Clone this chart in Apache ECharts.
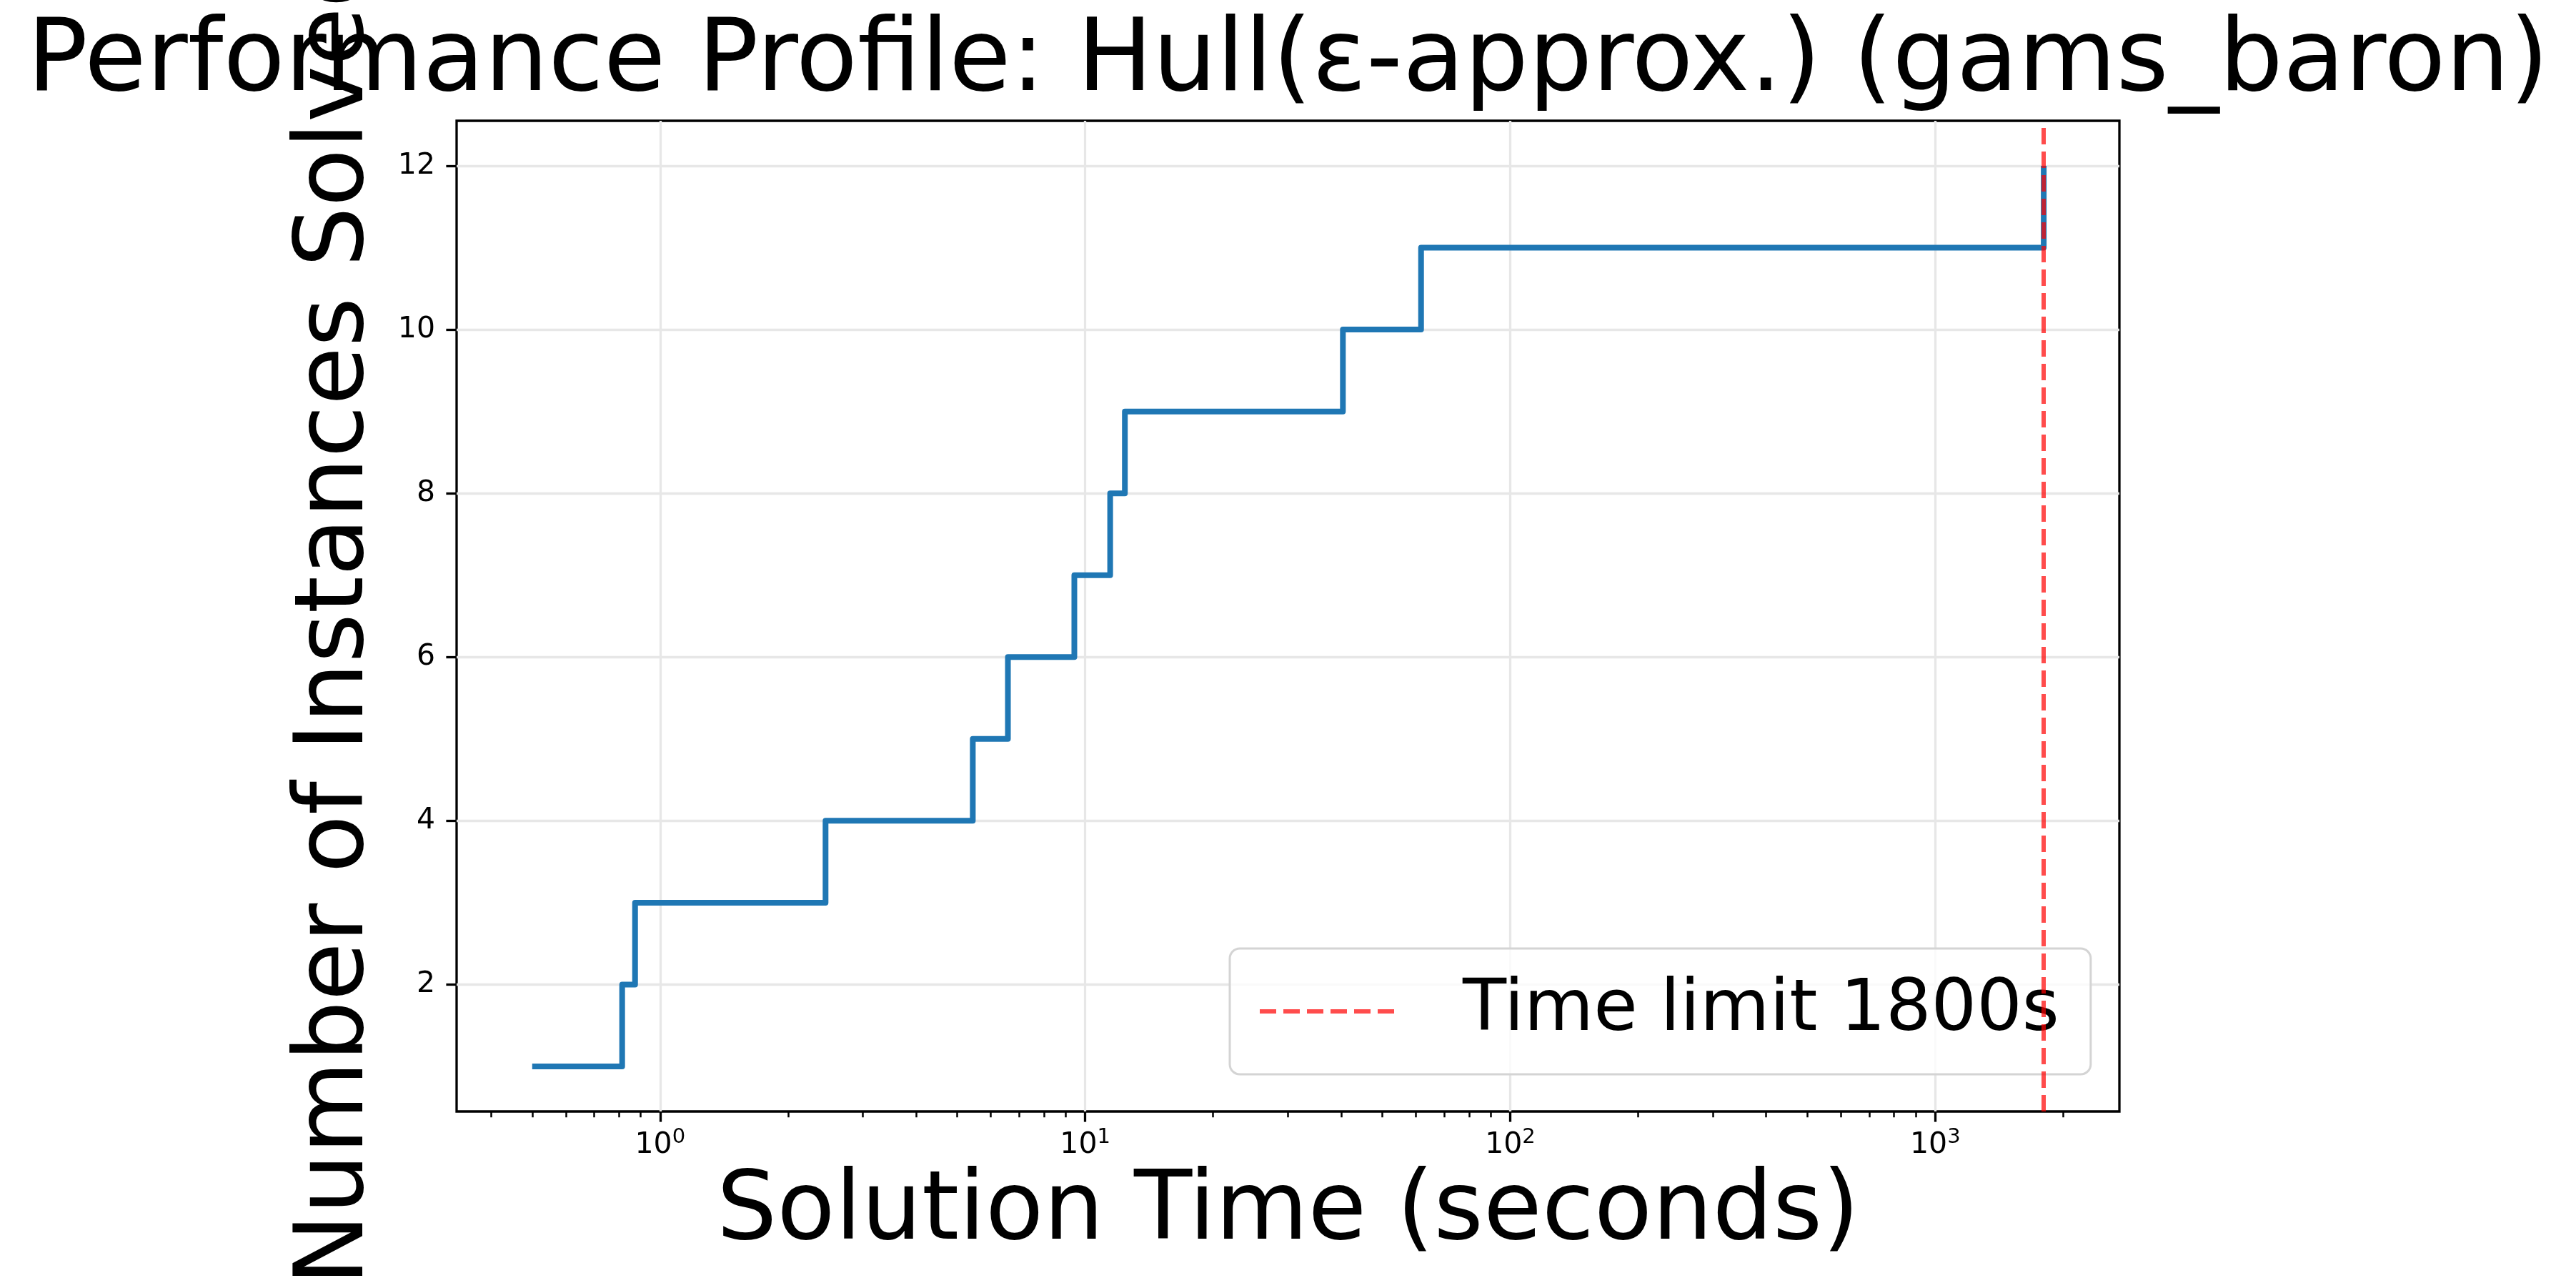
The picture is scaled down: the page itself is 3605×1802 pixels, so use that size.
<html>
  <head>
    <meta charset="utf-8">
    <title>Performance Profile</title>
    <script src="https://cdn.jsdelivr.net/npm/echarts@6.0.0/dist/echarts.min.js"></script>
    <style>
      html, body { margin: 0; padding: 0; background: #fff; }
      #main { width: 3605px; height: 1802px; }
    </style>
  </head>
  <body>
    <div id="main"></div>
    <script type="text/javascript">
        // solution times (s) and cumulative instances solved
        var times = [0.5, 0.814, 0.873, 2.45, 5.44, 6.58, 9.43, 11.45, 12.4, 40.4, 61.7, 1800];
        var solved = [1, 2, 3, 4, 5, 6, 7, 8, 9, 10, 11, 12];
        var timeLimit = 1800;
        var xMajorTicks = [1, 10, 100, 1000];
        var xMinorTicks = [0.4, 0.5, 0.6, 0.7, 0.8, 0.9, 2, 3, 4, 5, 6, 7, 8, 9,
                           20, 30, 40, 50, 60, 70, 80, 90, 200, 300, 400, 500, 600, 700, 800, 900, 2000];
        var yTicks = [2, 4, 6, 8, 10, 12];

        var font = 'DejaVu Sans';
        var limitColor = 'rgba(255,0,0,0.7)';
        var chartDom = document.getElementById('main');
        var myChart = echarts.init(chartDom);
        var option;

        var points = times.map(function (t, i) { return [t, solved[i]]; });

        option = {
          animation: false,
          backgroundColor: '#ffffff',
          title: {
            text: 'Performance Profile: Hull(ε-approx.) (gams_baron)',
            left: 'center',
            top: 14,
            textStyle: { fontFamily: font, fontSize: 141, fontWeight: 'normal', color: '#000' }
          },
          legend: {
            data: ['Time limit 1800s'],
            left: 1721,
            top: 1327,
            orient: 'vertical',
            padding: [38, 44, 38, 39],
            itemWidth: 196,
            itemHeight: 30,
            itemStyle: { opacity: 0 },
            lineStyle: { color: limitColor, width: 6, type: [23, 10], opacity: 1 },
            backgroundColor: 'rgba(255,255,255,0.8)',
            borderColor: '#d4d4d4',
            borderWidth: 3,
            borderRadius: 14,
            textStyle: { fontFamily: font, fontSize: 100, color: '#000', padding: [0, 0, 0, 83] }
          },
          grid: {
            left: 639,
            right: 639,
            top: 169,
            bottom: 247,
            outerBoundsMode: 'none',
            containLabel: false,
            show: true,
            borderColor: '#000',
            borderWidth: 3.3,
            backgroundColor: 'transparent'
          },
          xAxis: [
            {
              type: 'log',
              logBase: 10,
              min: 0.332,
              max: 2712,
              position: 'bottom',
              name: 'Solution Time (seconds)',
              nameLocation: 'middle',
              nameGap: 76,
              nameTextStyle: { fontFamily: font, fontSize: 133, color: '#000' },
              axisLine: { show: false },
              axisTick: { show: true, customValues: xMajorTicks, length: 14.6, lineStyle: { color: '#000', width: 3.3 } },
              axisLabel: {
                customValues: xMajorTicks,
                margin: 24,
                formatter: function (v) {
                  return '{b|10}{s|' + Math.round(Math.log10(v)) + '}';
                },
                rich: {
                  b: { fontFamily: font, fontSize: 41, color: '#000', lineHeight: 46 },
                  s: { fontFamily: font, fontSize: 29, color: '#000', lineHeight: 46, padding: [0, 0, 22, 0] }
                }
              },
              splitLine: { show: true, lineStyle: { color: '#e7e7e7', width: 3.3 } }
            },
            {
              type: 'log',
              logBase: 10,
              min: 0.332,
              max: 2712,
              position: 'bottom',
              axisLine: { show: false },
              axisTick: { show: true, customValues: xMinorTicks, length: 8.3, lineStyle: { color: '#000', width: 2.5 } },
              axisLabel: { show: false },
              splitLine: { show: false }
            }
          ],
          yAxis: {
            type: 'value',
            min: 0.45,
            max: 12.55,
            name: 'Number of Instances Solved',
            nameLocation: 'middle',
            nameRotate: 90,
            nameGap: 100,
            nameTextStyle: { fontFamily: font, fontSize: 133, color: '#000' },
            axisLine: { show: false },
            axisTick: { show: true, customValues: yTicks, length: 14.6, lineStyle: { color: '#000', width: 3.3 } },
            axisLabel: { customValues: yTicks, margin: 30, fontFamily: font, fontSize: 41, color: '#000' },
            splitLine: { show: true, lineStyle: { color: '#e7e7e7', width: 3.3 } }
          },
          series: [
            {
              name: 'solved',
              type: 'line',
              step: 'end',
              data: points,
              symbol: 'none',
              lineStyle: { color: '#1f77b4', width: 8, join: 'round' },
              z: 3
            },
            {
              name: 'Time limit 1800s',
              type: 'line',
              data: [],
              symbol: 'none',
              color: limitColor,
              lineStyle: { color: limitColor, width: 6, type: [23, 10] },
              markLine: {
                silent: true,
                symbol: 'none',
                label: { show: false },
                lineStyle: { color: limitColor, width: 6, type: [23, 10] },
                data: [{ xAxis: timeLimit }]
              },
              z: 4
            }
          ]
        };

        option && myChart.setOption(option);
    </script>
  </body>
</html>
